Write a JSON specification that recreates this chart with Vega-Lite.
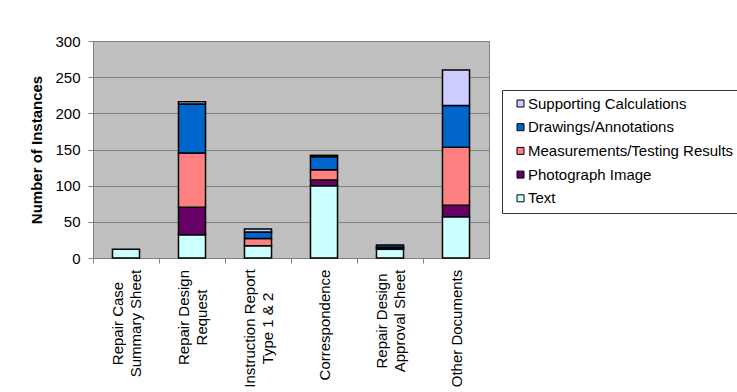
{
  "$schema": "https://vega.github.io/schema/vega-lite/v6.json",
  "autosize": {"type": "none"},
  "width": 396,
  "height": 217,
  "padding": {"left": 93, "top": 41, "right": 248, "bottom": 134},
  "background": "white",
  "config": {
    "font": "Liberation Sans",
    "view": {"fill": "#C0C0C0", "stroke": "#808080", "strokeWidth": 1}
  },
  "data": {
    "values": [
      {"doc": "Repair Case Summary Sheet", "type": "Text", "rank": 1, "count": 12},
      {"doc": "Repair Design Request", "type": "Text", "rank": 1, "count": 32},
      {"doc": "Repair Design Request", "type": "Photograph Image", "rank": 2, "count": 38},
      {"doc": "Repair Design Request", "type": "Measurements/Testing Results", "rank": 3, "count": 75},
      {"doc": "Repair Design Request", "type": "Drawings/Annotations", "rank": 4, "count": 68},
      {"doc": "Repair Design Request", "type": "Supporting Calculations", "rank": 5, "count": 3},
      {"doc": "Instruction Report Type 1 & 2", "type": "Text", "rank": 1, "count": 17},
      {"doc": "Instruction Report Type 1 & 2", "type": "Measurements/Testing Results", "rank": 3, "count": 10},
      {"doc": "Instruction Report Type 1 & 2", "type": "Drawings/Annotations", "rank": 4, "count": 9},
      {"doc": "Instruction Report Type 1 & 2", "type": "Supporting Calculations", "rank": 5, "count": 4},
      {"doc": "Correspondence", "type": "Text", "rank": 1, "count": 100},
      {"doc": "Correspondence", "type": "Photograph Image", "rank": 2, "count": 8},
      {"doc": "Correspondence", "type": "Measurements/Testing Results", "rank": 3, "count": 14},
      {"doc": "Correspondence", "type": "Drawings/Annotations", "rank": 4, "count": 18},
      {"doc": "Correspondence", "type": "Supporting Calculations", "rank": 5, "count": 2},
      {"doc": "Repair Design Approval Sheet", "type": "Text", "rank": 1, "count": 12},
      {"doc": "Repair Design Approval Sheet", "type": "Photograph Image", "rank": 2, "count": 2},
      {"doc": "Repair Design Approval Sheet", "type": "Measurements/Testing Results", "rank": 3, "count": 1},
      {"doc": "Repair Design Approval Sheet", "type": "Drawings/Annotations", "rank": 4, "count": 3},
      {"doc": "Other Documents", "type": "Text", "rank": 1, "count": 57},
      {"doc": "Other Documents", "type": "Photograph Image", "rank": 2, "count": 16},
      {"doc": "Other Documents", "type": "Measurements/Testing Results", "rank": 3, "count": 80},
      {"doc": "Other Documents", "type": "Drawings/Annotations", "rank": 4, "count": 58},
      {"doc": "Other Documents", "type": "Supporting Calculations", "rank": 5, "count": 49}
    ]
  },
  "mark": {"type": "bar", "stroke": "black", "strokeWidth": 1.5},
  "encoding": {
    "x": {
      "field": "doc",
      "type": "nominal",
      "sort": null,
      "scale": {"paddingInner": 0.59, "paddingOuter": 0.295},
      "axis": {
        "title": null,
        "labelAngle": -90,
        "labelAlign": "center",
        "labelBaseline": "middle",
        "labelFontSize": 15,
        "labelColor": "black",
        "labelLineHeight": 18,
        "labelPadding": {
          "condition": [
            {"test": "datum.value == 'Repair Case Summary Sheet'", "value": 60},
            {"test": "datum.value == 'Repair Design Request'", "value": 54},
            {"test": "datum.value == 'Instruction Report Type 1 & 2'", "value": 65},
            {"test": "datum.value == 'Correspondence'", "value": 61.5},
            {"test": "datum.value == 'Repair Design Approval Sheet'", "value": 57.5}
          ],
          "value": 65
        },
        "labelLimit": 200,
        "labelOverlap": false,
        "tickSize": 5,
        "tickColor": "#808080",
        "tickOffset": -33,
        "labelOffset": {
          "condition": {"test": "datum.value == 'Correspondence' || datum.value == 'Other Documents'", "value": 33},
          "value": 24
        },
        "domainColor": "#808080",
        "labelExpr": "datum.label == 'Repair Case Summary Sheet' ? ['Repair Case', 'Summary Sheet'] : datum.label == 'Repair Design Request' ? ['Repair Design', 'Request'] : datum.label == 'Instruction Report Type 1 & 2' ? ['Instruction Report', 'Type 1 & 2'] : datum.label == 'Repair Design Approval Sheet' ? ['Repair Design', 'Approval Sheet'] : datum.label"
      }
    },
    "y": {
      "field": "count",
      "type": "quantitative",
      "aggregate": "sum",
      "stack": "zero",
      "scale": {"domain": [0, 300], "nice": false},
      "axis": {
        "title": "Number of Instances",
        "titleFontSize": 15,
        "titleFontWeight": "bold",
        "titleColor": "black",
        "titlePadding": 10,
        "values": [0, 50, 100, 150, 200, 250, 300],
        "labelFontSize": 15,
        "labelColor": "black",
        "labelPadding": 8,
        "tickSize": 5,
        "tickColor": "#808080",
        "domainColor": "#808080",
        "grid": true,
        "gridColor": "#808080",
        "gridWidth": 1
      }
    },
    "color": {
      "field": "type",
      "type": "nominal",
      "scale": {
        "domain": ["Supporting Calculations", "Drawings/Annotations", "Measurements/Testing Results", "Photograph Image", "Text"],
        "range": ["#CCCCFF", "#0066CC", "#FF8080", "#660066", "#CCFFFF"]
      },
      "legend": {
        "title": null,
        "orient": "none",
        "legendX": 409,
        "legendY": 49,
        "fillColor": "white",
        "strokeColor": "#333333",
        "padding": 6,
        "symbolType": "square",
        "symbolSize": 49,
        "symbolStrokeColor": "black",
        "symbolStrokeWidth": 1,
        "symbolOffset": 5,
        "labelFontSize": 15,
        "labelColor": "black",
        "labelOffset": 0,
        "labelLimit": 300,
        "rowPadding": 7.7
      }
    },
    "order": {"field": "rank", "type": "quantitative", "sort": "ascending"}
  }
}
